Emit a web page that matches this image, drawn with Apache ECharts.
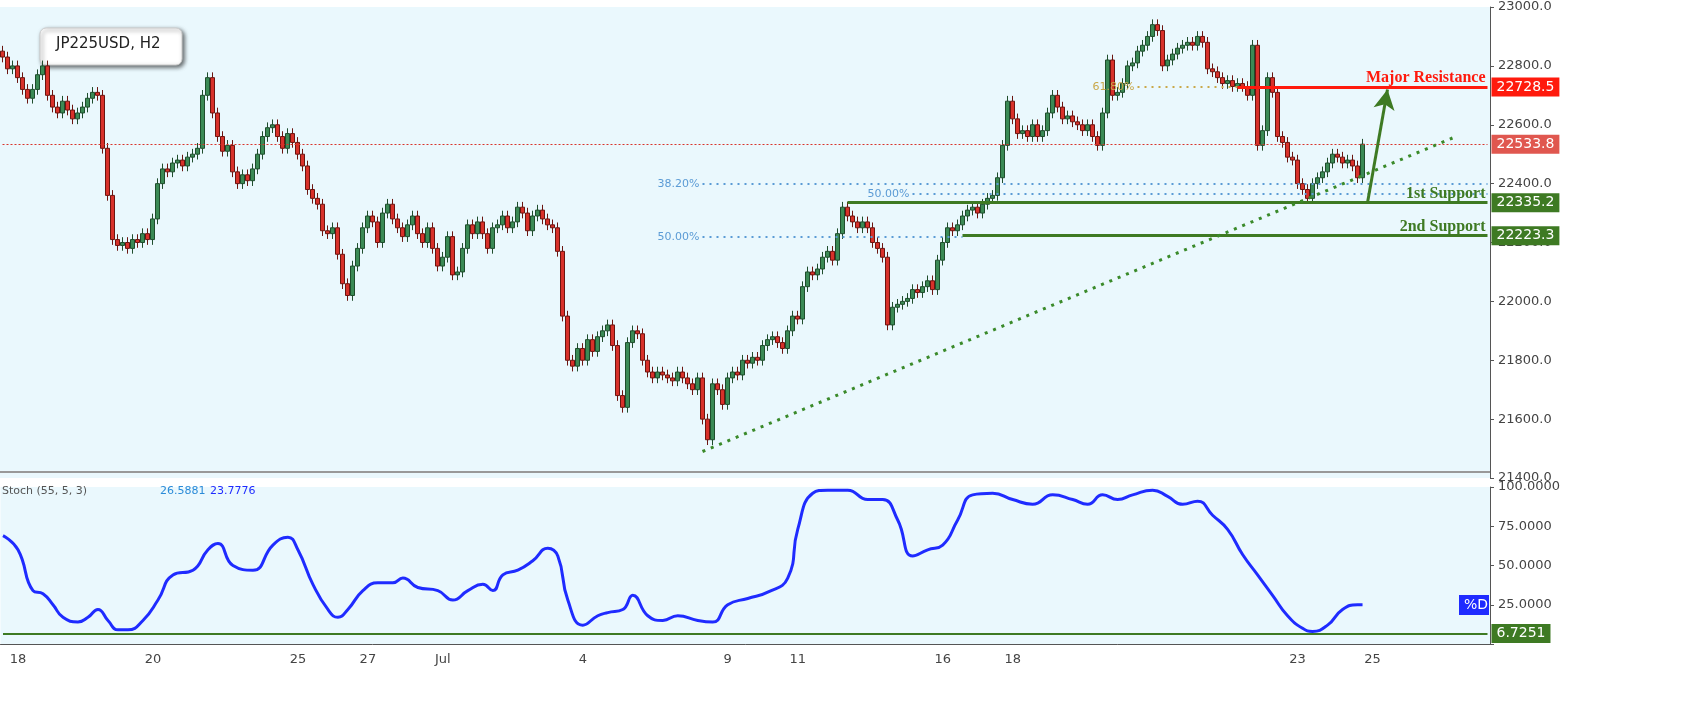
<!DOCTYPE html>
<html><head><meta charset="utf-8">
<script src="https://cdn.jsdelivr.net/npm/echarts@6/dist/echarts.min.js"></script>
<style>html,body{margin:0;padding:0;background:#fff}#c{width:1707px;height:723px}</style>
</head><body><div id="c"></div>
<script>
// ---- data ----
const closes = [
22830,22790,22800,22760,22720,22690,22720,22770,22800,22700,
22660,22640,22680,22650,22620,22640,22660,22690,22710,22700,
22520,22360,22210,22190,22200,22180,22210,22200,22230,22210,
22280,22400,22450,22440,22470,22480,22460,22490,22500,22520,
22700,22760,22640,22560,22510,22530,22440,22400,22430,22410,
22450,22500,22560,22590,22600,22560,22520,22570,22540,22500,
22460,22380,22350,22330,22240,22230,22250,22160,22060,22020,
22120,22180,22250,22290,22270,22200,22300,22330,22280,22250,
22220,22260,22290,22230,22200,22250,22180,22120,22150,22220,
22090,22100,22180,22260,22230,22270,22230,22180,22250,22260,
22290,22250,22270,22320,22300,22240,22290,22310,22280,22260,
22250,22170,21950,21800,21780,21840,21800,21870,21830,21880,
21900,21920,21850,21680,21640,21860,21900,21890,21800,21760,
21740,21760,21750,21740,21730,21760,21740,21720,21700,21740,
21600,21530,21720,21700,21650,21740,21760,21750,21800,21790,
21810,21800,21850,21870,21880,21860,21840,21900,21950,21940,
22050,22100,22090,22110,22150,22170,22140,22230,22320,22290,
22270,22250,22270,22250,22200,22180,22150,21920,21980,21990,
22000,22010,22040,22030,22050,22070,22040,22140,22200,22250,
22240,22260,22290,22310,22320,22300,22330,22350,22360,22420,
22530,22680,22620,22570,22580,22560,22600,22560,22580,22640,
22700,22660,22620,22630,22610,22600,22580,22600,22560,22530,
22640,22820,22700,22710,22740,22800,22810,22850,22870,22900,
22940,22920,22800,22820,22840,22860,22870,22880,22870,22900,
22880,22790,22780,22760,22740,22750,22730,22740,22730,22700,
22870,22530,22580,22760,22710,22560,22540,22490,22480,22400,
22380,22350,22400,22420,22440,22470,22500,22490,22470,22480,
22460,22420,22534];
const firstOpen = 22850;
const totalSlots = 298;
const dateLabels = {3:'18',30:'20',59:'25',73:'27',88:'Jul',116:'4',145:'9',159:'11',188:'16',202:'18',259:'23',274:'25'};
const stochIdx = [0,3,6,8,10,12,15,17,19,21,23,25,28,31,34,38,41,43,46,50,54,57,59,62,65,67,69,72,75,78,80,83,87,90,93,96,98,100,103,106,109,111,113,116,119,121,124,126,129,132,135,139,142,145,149,153,157,159,162,165,169,173,176,179,182,185,188,191,194,198,202,206,210,214,217,220,223,226,230,233,236,239,242,245,248,251,254,257,260,262,265,268,271,272];
const stochD = [69,60,34,32,25,17,14,17,22,15,9,9,15,28,44,47,60,64,50,47,63,68,60,38,22,17,22,34,39,39,42,36,34,28,34,38,34,44,47,53,61,56,28,12,18,20,22,31,18,15,18,15,14,25,29,33,42,73,96,98,98,92,92,79,56,60,63,79,95,96,92,89,95,92,89,95,92,95,98,94,89,91,82,73,57,44,31,18,10,8,12,22,25,25];
const levels = {resistance:22728.5, last:22533.8, s1:22335.2, s2:22223.3, fib382:22400, fib50b:22366, fib50a:22220, fib618:22729, stochLow:6.7251};
const trend = [[140,21490],[290,22555]];
const arrow = [[273,22335],[277,22720]];

// ---- build ----
const cats = Array.from({length: totalSlots}, (_, i) => String(i));
const ohlc = closes.map((c, i) => {
  const o = i === 0 ? firstOpen : closes[i-1];
  return [o, c, Math.min(o,c) - 18, Math.max(o,c) + 18];
});
const stochData = stochIdx.map((ix, k) => [ix, stochD[k]]);
const last = totalSlots - 1;
const GREEN = '#3e7a23', RED = '#ff1a0d';

function tag(color, text){return {show:true,position:'end',distance:4,formatter:text,color:'#fff',backgroundColor:color,padding:[3,5,2,5],fontSize:14,fontFamily:'DejaVu Sans'};}
function seg(a, b, style, label){return [{coord:a, lineStyle:style, label:label||{show:false}}, {coord:b}];}
function txt(color, text){return {show:true,position:'insideEndTop',formatter:text,color:color,fontSize:16,fontWeight:'bold',fontFamily:'Liberation Serif',distance:[2,1]};}
const fibLab = (t,c)=>({show:true,position:'insideStartTop',formatter:t,color:c,fontSize:11,fontFamily:'DejaVu Sans',distance:[-45,-6]});

const chart = echarts.init(document.getElementById('c'));
chart.setOption({
  animation:false,
  backgroundColor:'#fff',
  grid:[
    {left:0, right:217, top:7, height:471, show:true, backgroundColor:'#eaf8fd', borderWidth:0},
    {left:0, right:217, top:487, height:157, show:true, backgroundColor:'#eaf8fd', borderWidth:0}
  ],
  xAxis:[
    {type:'category', data:cats, gridIndex:0, boundaryGap:true, axisLine:{show:false}, axisTick:{show:false}, axisLabel:{show:false}},
    {type:'category', data:cats, gridIndex:1, boundaryGap:true,
     axisLine:{show:true, lineStyle:{color:'#555'}}, axisTick:{show:false},
     axisLabel:{interval:0, color:'#444', fontSize:13, fontFamily:'DejaVu Sans', margin:9, formatter:(v)=>dateLabels[v]||''}}
  ],
  yAxis:[
    {type:'value', gridIndex:0, position:'right', min:21400, max:23000, interval:200,
     axisLine:{show:true, lineStyle:{color:'#555'}}, axisTick:{show:true, length:4, lineStyle:{color:'#555'}}, splitLine:{show:false},
     axisLabel:{color:'#444', fontSize:13, fontFamily:'DejaVu Sans', margin:8, formatter:v=>v.toFixed(1)}},
    {type:'value', gridIndex:1, position:'right', min:0, max:100, interval:25,
     axisLine:{show:true, lineStyle:{color:'#555'}}, axisTick:{show:true, length:4, lineStyle:{color:'#555'}}, splitLine:{show:false},
     axisLabel:{color:'#444', fontSize:13, fontFamily:'DejaVu Sans', margin:8, formatter:v=>v===0?'':v.toFixed(4)}}
  ],
  series:[
    {type:'candlestick', xAxisIndex:0, yAxisIndex:0, data:ohlc, barWidth:4,
     itemStyle:{color:'#3b8a55', color0:'#d8312a', borderColor:'#1f4d2c', borderColor0:'#6b1510', borderWidth:1},
     markLine:{symbol:['none','none'], silent:true, animation:false, data:[
       seg([0,levels.last],[last,levels.last],{color:'#d9342b',type:[2,2],width:1},tag('#e0574f', String(levels.last))),
       seg([140,levels.fib382],[last,levels.fib382],{color:'#5b9bd5',type:[2,5],width:2},fibLab('38.20%','#5b9bd5')),
       seg([182,levels.fib50b],[last,levels.fib50b],{color:'#5b9bd5',type:[2,5],width:2},fibLab('50.00%','#5b9bd5')),
       seg([140,levels.fib50a],[192,levels.fib50a],{color:'#5b9bd5',type:[2,5],width:2},fibLab('50.00%','#5b9bd5')),
       seg([227,levels.fib618],[247,levels.fib618],{color:'#c9a84a',type:[2,5],width:2},fibLab('61.80%','#c9a84a')),
       seg([169,levels.s1],[last,levels.s1],{color:GREEN,width:3,type:'solid'},tag(GREEN, String(levels.s1))),
       seg([169,levels.s1],[last,levels.s1],{color:GREEN,width:0,type:'solid'},txt(GREEN,'1st Support')),
       seg([192,levels.s2],[last,levels.s2],{color:GREEN,width:3,type:'solid'},tag(GREEN, String(levels.s2))),
       seg([192,levels.s2],[last,levels.s2],{color:GREEN,width:0,type:'solid'},txt(GREEN,'2nd Support')),
       seg([247,levels.resistance],[last,levels.resistance],{color:RED,width:3,type:'solid'},tag(RED, String(levels.resistance))),
       seg([247,levels.resistance],[last,levels.resistance],{color:RED,width:0,type:'solid'},txt(RED,'Major Resistance')),
       seg(trend[0],trend[1],{color:'#3a8a2a',type:[3,6],width:3},{show:false})
     ]}
    },
    {type:'line', xAxisIndex:0, yAxisIndex:0, data:[], silent:true,
     markLine:{symbol:['none','arrow'], symbolSize:[16,20], silent:true, animation:false, data:[
       [{coord:arrow[0], lineStyle:{color:GREEN,width:3,type:'solid'}, label:{show:false}},{coord:arrow[1]}]
     ]}},
    {type:'line', xAxisIndex:1, yAxisIndex:1, data:stochData, smooth:0.5, showSymbol:false,
     lineStyle:{color:'#1f2bff', width:3},
     markLine:{symbol:['none','none'], silent:true, data:[
       [{coord:[0,levels.stochLow], lineStyle:{color:GREEN,width:2,type:'solid'}, label:tag(GREEN, String(levels.stochLow))},{coord:[last,levels.stochLow]}]
     ]}}
  ],
  graphic:[
    {type:'rect', shape:{x:40,y:28,width:142,height:37,r:6}, style:{fill:'#fff',stroke:'#ccc',shadowBlur:4,shadowOffsetX:2,shadowOffsetY:2,shadowColor:'rgba(0,0,0,0.6)'}},
    {type:'text', x:56, y:37, style:{text:'JP225USD, H2', font:'15px "DejaVu Sans"', fill:'#222'}},
    {type:'line', shape:{x1:0,y1:472,x2:1490,y2:472}, style:{stroke:'#999',lineWidth:2}},
    {type:'text', x:2, y:486, style:{text:'Stoch (55, 5, 3)', font:'11px "DejaVu Sans"', fill:'#555'}},
    {type:'text', x:160, y:486, style:{text:'26.5881', font:'11px "DejaVu Sans"', fill:'#2a8bd8'}},
    {type:'text', x:210, y:486, style:{text:'23.7776', font:'11px "DejaVu Sans"', fill:'#1f2bff'}},
    {type:'rect', shape:{x:1459,y:595,width:30,height:20}, style:{fill:'#1f2bff'}},
    {type:'text', x:1464, y:598, style:{text:'%D', font:'14px "DejaVu Sans"', fill:'#fff'}}
  ]
});
</script></body></html>
